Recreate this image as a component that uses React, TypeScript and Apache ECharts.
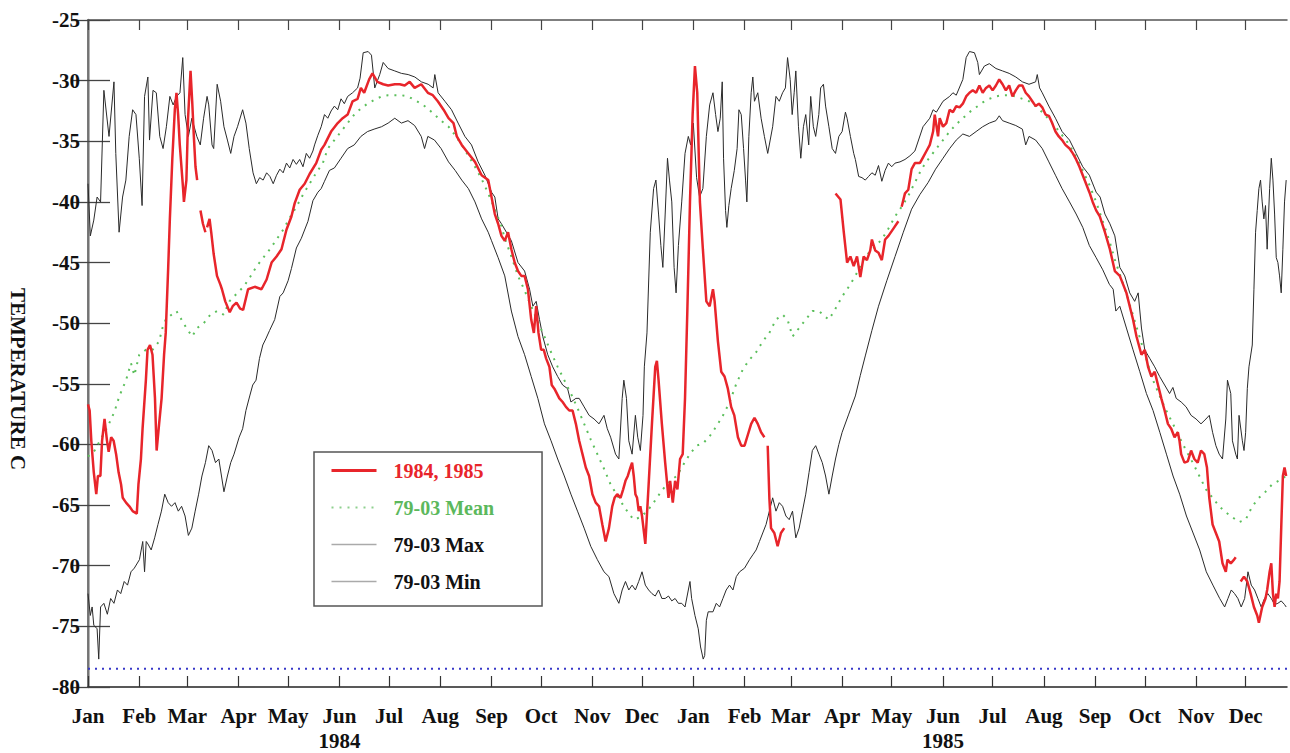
import React, { useEffect, useRef } from "react";
import * as echarts from "echarts";

// ---- axis definitions (days since 1 Jan 1984) ----
const X_MIN = 0;
const X_MAX = 725;
const Y_MIN = -80;
const Y_MAX = -25;
const Y_STEP = 5;
const MONTH_STARTS = [0, 31, 60, 91, 121, 152, 182, 213, 244, 274, 305, 335, 366, 397, 425, 456, 486, 517, 547, 578, 609, 639, 670, 700];
const MONTH_LABELS = ["Jan", "Feb", "Mar", "Apr", "May", "Jun\n1984", "Jul", "Aug", "Sep", "Oct", "Nov", "Dec",
  "Jan", "Feb", "Mar", "Apr", "May", "Jun\n1985", "Jul", "Aug", "Sep", "Oct", "Nov", "Dec"];
const FROST_POINT = -78.5;
const Y_TITLE = "TEMPERATURE C";

const LEGEND_NAMES = ["1984, 1985", "79-03 Mean", "79-03 Max", "79-03 Min"];

// ---- daily temperature 1984-1985 (gaps = null) ----
const obs8485: [number, number | null][] = [
  [0, -56.7], [1, -57.2], [2, -59.7], [3.5, -62.3], [5, -64.1], [6, -62.6], [7.5, -62.6], [8.5, -59.7], [10, -57.9], [11.5, -59.7],
  [12.5, -60.6], [14, -59.4], [15.5, -59.7], [17, -60.8], [18.5, -62.3], [20, -63.3], [21, -64.4], [23, -64.8], [25, -65.1], [27, -65.5],
  [29.5, -65.7], [30.5, -63.3], [32, -61.2], [33, -58.7], [35, -54.7], [36, -52.2], [37.5, -51.8], [39, -52.6], [40.5, -56.2], [41.5, -60.5],
  [43, -58.3], [44.5, -56.2], [46, -52.6], [47, -50.8], [48.5, -45.4], [49.5, -41.4], [51, -36.4], [52.5, -32.4], [53.5, -31], [54.5, -32.8],
  [55.5, -35.3], [57.5, -38.9], [58, -40], [59.5, -38.2], [60.5, -33.1], [62, -29.2], [63, -31.7], [64, -34.6], [65, -37.1], [66, -38.2],
  [67, null], [68, -40.7], [69.5, -41.8], [71, -42.5], [71.5, null], [72, -42.1], [73.5, -41.4], [74.5, -42.5], [76, -44.3], [78, -46.1],
  [80, -46.8], [81, -47.2], [83, -48.2], [85.7, -49.1], [87.5, -48.6], [89.8, -48.3], [92, -48.8], [93.8, -48.9], [96.8, -47.2], [100.8, -47],
  [104.9, -47.2], [108, -46.4], [111, -45], [114, -44.5], [117, -43.9], [120, -42.3], [123, -41.2], [125, -40.1], [128, -39], [131, -38.5],
  [134, -37.7], [138, -36.8], [141, -35.7], [143, -35.3], [147, -34.2], [151, -33.5], [154, -33.1], [157, -32.8], [160, -31.7], [163, -31.5],
  [165, -30.6], [167, -31], [170, -29.9], [172, -29.4], [175, -30.1], [178.5, -30.3], [181.5, -30.4], [185.5, -30.3], [188.5, -30.3], [191.5, -30.4],
  [194.5, -30.1], [197.5, -30.6], [201.5, -30.3], [205.5, -31], [208.5, -31.2], [211.5, -31.7], [215, -32.4], [218, -33.1], [221, -33.5], [223, -34.6],
  [226, -35.3], [230, -36], [234, -36.7], [238, -37.8], [242, -38.2], [244, -39.6], [246, -41], [248, -41.8], [250, -42.8], [252, -43.2],
  [254, -42.5], [256, -43.9], [258, -45], [260, -45.7], [262, -46.1], [264, -46.1], [266, -47.2], [268, -49.7], [269.6, -50.8], [271, -48.6],
  [272.4, -50.8], [274, -52.2], [275.6, -52.2], [277, -52.9], [279, -53.6], [280.4, -55.1], [282, -55.4], [285, -56.2], [287, -56.5], [289, -56.9],
  [291, -57.2], [293, -57.2], [295, -58.3], [297, -59.7], [299, -60.8], [301, -61.9], [303, -62.6], [305, -64.1], [307, -64.8], [309, -65.1],
  [311, -66.6], [313, -68], [315, -66.9], [317, -65.1], [318.4, -64.4], [320, -64.1], [322, -64.4], [323.6, -63.7], [325, -63], [326.4, -62.6],
  [328, -61.9], [329, -61.5], [330, -62.6], [331, -64.1], [332, -64.4], [333, -65.5], [334, -65.1], [335, -65.9], [337, -68.2], [339, -63.3],
  [341, -58.3], [343, -53.6], [344, -53.1], [345, -54.7], [347, -58.3], [349, -61.5], [351, -64.4], [352, -63], [353.6, -64.8], [355, -63],
  [356.4, -63.7], [358, -61.2], [359.6, -60.8], [361, -56.2], [362.4, -49], [364, -40], [365.6, -32.8], [367, -28.8], [368.4, -31], [370, -40],
  [371.8, -43.9], [373.9, -48.2], [375.9, -48.6], [377.9, -47.2], [378.9, -48.2], [380.9, -51.5], [382.9, -54], [384.9, -54.4], [386.9, -55.4], [388.9, -56.9],
  [390.8, -57.6], [393, -59.4], [395, -60.1], [397, -60.1], [399, -59.2], [401, -58.3], [403, -57.8], [405, -58.3], [407, -59], [409, -59.4],
  [410, null], [411, -60.1], [412, -64.4], [413, -66.9], [415, -67.3], [417, -68.4], [419, -67.3], [421, -66.9], [430, null],
  [452, -39.3], [455, -39.8], [457, -42.5], [459, -45], [461, -44.5], [463, -45.3], [465, -44.5], [467, -46.2], [469, -44.5], [471, -44.8],
  [473, -44], [474, -43.1], [476, -44], [478, -44.2], [480, -44.8], [482, -43.1], [484, -42.8], [487, -42.2], [490, -41.6], [491, null],
  [492, -40.4], [494, -39.3], [496, -39], [498, -37.3], [500, -36.8], [503, -36.8], [505, -36.3], [507, -35.8], [509, -35.3], [511, -34.2],
  [512, -32.8], [514, -34.6], [515, -33.1], [517, -33.8], [519, -33.5], [521, -32.4], [523, -32.6], [525, -32.1], [527, -32.2], [529, -31.9],
  [531, -31.3], [533, -31], [535, -30.8], [537, -31], [539, -30.4], [541, -31], [543, -30.6], [545, -30.4], [547, -30.8], [549, -30.4],
  [551, -29.9], [553, -30.3], [555, -30.8], [557, -30.4], [559, -31.3], [561, -30.8], [563, -30.4], [565, -30.4], [567, -31], [569, -31.3],
  [571, -31.7], [573, -32.1], [575, -31.9], [577, -32.2], [579, -32.8], [581, -32.9], [583, -33.5], [585, -34.2], [587, -34.6], [589, -34.9],
  [591, -35.3], [593.5, -35.6], [595.5, -36], [597.5, -36.5], [599.5, -37.1], [601.5, -37.8], [603.5, -38.5], [605.5, -39.2], [607.5, -40], [609.6, -40.7],
  [611.8, -41.2], [614.9, -42.5], [617.9, -43.9], [620.9, -45.7], [623.9, -46.1], [625.9, -46.8], [627.9, -47.5], [629.9, -48.6], [631.9, -49.7], [634, -51.1],
  [637, -52.6], [639, -52.2], [641, -53.6], [643, -54.4], [645, -54], [647, -55.1], [649, -56.2], [651, -57.2], [653, -58.3], [655, -58.7],
  [657, -59.4], [659, -59], [660, -59.7], [661, -60.8], [663, -61.5], [665, -61.4], [667, -60.5], [669, -61.2], [671, -61.5], [673, -60.5],
  [675, -60.8], [676.6, -61.9], [678, -64.4], [680, -66.6], [682, -67.3], [684, -68], [686, -69.8], [688, -70.5], [689, -69.5], [691, -69.8],
  [693, -69.5], [694, -69.3], [695.5, null], [697, -71.3], [699, -70.9], [701, -71.3], [703, -72.3], [705, -73.4], [707, -74.1], [708, -74.7],
  [710, -73.4], [712, -72.7], [713, -72], [714.5, -70.5], [715.5, -69.8], [716.5, -72.3], [717.5, -73.4], [718.5, -72.3], [719.5, -72.7], [720.5, -71.3],
  [721.5, -66.9], [722.5, -62.6], [723.5, -61.9], [724.5, -62.6],
];

// ---- 1979-2003 climatology: mean ----
const climMean: [number, number][] = [
  [0, -61], [4, -60.5], [8, -59.5], [12, -58.5], [16, -57.3], [19, -56], [23, -54.7], [26, -53.3], [28, -54.3], [31, -52.6],
  [35, -52.2], [39, -52.2], [43, -51.5], [45, -50.4], [47, -49.7], [50.5, -49.3], [53.5, -49], [56.5, -49.7], [59.5, -50.4], [63, -51.1],
  [66, -50.4], [70, -50], [74, -49.3], [78, -49], [82, -49.3], [85.5, -48.2], [89, -47.7], [94, -47], [98, -46.2], [102, -45.3],
  [106, -44.6], [110, -43.9], [114, -43.1], [118, -42.3], [122, -41.3], [126, -40.4], [130, -39.4], [134, -38.5], [138, -37.6], [142, -36.8],
  [145, -35.6], [149, -34.9], [153, -34.2], [157, -33.5], [161, -32.8], [165, -32.3], [169, -31.9], [173, -31.6], [177.5, -31.3], [181.5, -31.2],
  [185.5, -31.2], [189.5, -31.2], [193.5, -31.3], [197.5, -31.6], [201.5, -31.9], [205.5, -32.3], [209.5, -32.8], [213.5, -33.3], [218, -33.8], [222, -34.5],
  [226, -35.3], [230, -36.2], [234, -37.1], [238, -38.1], [242, -39.3], [246, -40.6], [250, -42], [252, -43], [256, -44.5], [260, -46.1],
  [264, -47.3], [268, -48.6], [272, -49.9], [276, -51.1], [280, -52.4], [284, -53.6], [288, -54.7], [292, -55.8], [296, -57], [300, -58.3],
  [304, -59.6], [308, -60.8], [312, -62], [316, -63.3], [320, -64.2], [324, -65.1], [327, -65.7], [330, -66.2], [334, -66], [338, -65.5],
  [341, -65], [344, -64.4], [347, -63.8], [350, -63.3], [353, -62.9], [356, -62.6], [359, -61.9], [362, -61.2], [365, -60.6], [368, -60.1],
  [372, -59.9], [376, -59.3], [380, -58.5], [384, -57.6], [388, -56.5], [392, -55], [396, -53.8], [400, -53], [404, -52.4], [408, -51.5],
  [412, -50.8], [416, -49.7], [420, -49.3], [423, -49.7], [426, -51.1], [430, -50.4], [434, -49.7], [438, -49], [442, -49], [446, -49.5],
  [448, -49.7], [452, -48.8], [456, -47.8], [460, -47], [464, -46.1], [470, -44.5], [475, -43.8], [480, -43.1], [484, -42.2], [488, -41.2],
  [492, -40.4], [496, -39.5], [500, -38.4], [504, -37.3], [508, -36.5], [513, -35.6], [517, -34.9], [521, -34.2], [525, -33.6], [529, -33.1],
  [533, -32.6], [537, -32.2], [541, -31.8], [545, -31.5], [549, -31.3], [553, -31.2], [557, -31.2], [561, -31.3], [565, -31.5], [569, -31.7],
  [573, -32.1], [577, -32.6], [581, -33.2], [585, -33.8], [589, -34.5], [593.5, -35.3], [597.5, -36.3], [601.5, -37.4], [605.5, -38.6], [609.6, -40],
  [613.6, -41.6], [617.6, -43.2], [621, -44.8], [624, -46], [628, -47.6], [632, -49.4], [636, -51.2], [640, -53], [644, -54.7], [648, -56],
  [652, -57.2], [656, -58.3], [660, -59.4], [664, -60.5], [668, -61.5], [672, -62.6], [676, -63.7], [680, -64.4], [684, -65.1], [688, -65.6],
  [692, -66], [696, -66.4], [700, -66.2], [704, -65.1], [708, -64.4], [712, -63.9], [716, -63.3], [720, -63], [724.5, -62.6],
];

// ---- 1979-2003 climatology: max ----
const climMax: [number, number][] = [
  [0, -38.5], [1.4, -42.8], [3.5, -41.5], [5.5, -39.6], [7.6, -40], [9.6, -30.8], [12.7, -34.6], [15.7, -30.1], [16.8, -36], [18.8, -42.5],
  [20.9, -39.6], [22.9, -38.2], [24.9, -34.6], [27, -32.4], [29, -32.8], [31, -36.4], [32.7, -40.3], [34.2, -31.3], [36.2, -29.7], [37.2, -34.9],
  [39.3, -30.8], [41.3, -31], [43.4, -34.6], [45.4, -35.6], [47.4, -33.8], [49.5, -31.3], [51.5, -32], [53.6, -31.3], [55.6, -31], [57.3, -28.1],
  [58.7, -32.8], [60.7, -34.6], [62.8, -33.1], [65.8, -34.6], [67.9, -35.3], [69.9, -33.1], [72, -31.3], [73, -32], [75, -35.3], [76, -35.6],
  [78.1, -30.3], [80.2, -31.7], [82.2, -33.8], [84.3, -34.9], [86.3, -36], [88.3, -34.6], [90.4, -33.8], [93.5, -32.4], [95.5, -33.5], [97.5, -35.6],
  [99.8, -37.6], [101.8, -38.5], [103.8, -38], [105.9, -38.2], [108, -37.6], [110, -37.9], [112, -38.5], [114, -37.8], [116, -37.3], [118, -37.6],
  [120, -36.8], [122, -37.2], [124, -36.5], [126, -36.9], [128, -36.5], [130, -37.1], [132, -36], [134, -36.4], [136, -35.8], [137, -35.3],
  [139, -34.5], [141, -33.8], [143, -32.8], [145, -33.1], [147, -32.5], [149, -32.1], [151, -32.4], [153, -31.5], [155, -31.9], [157, -31.3],
  [160, -31], [163, -30.6], [164.5, -29.8], [166.4, -27.7], [169.4, -27.6], [171.4, -27.9], [173.4, -30.6], [176.4, -29.5], [178.5, -28.5], [181.5, -29],
  [185.5, -29.2], [189.5, -29.4], [193.6, -29.5], [197.6, -29.7], [201.6, -30.1], [205.7, -30.3], [208.7, -30.6], [209.7, -29.5], [211.7, -31], [215.8, -31.7],
  [219.8, -32.4], [223.8, -33.5], [227.9, -34.6], [231.9, -35.3], [235.9, -36.7], [240, -37.8], [244, -39.2], [246, -39.6], [248, -41.4], [250, -41.8],
  [253, -42.5], [256, -43.2], [260, -45], [264, -45.7], [267, -47.2], [269, -48.6], [271, -48.2], [273, -49.7], [275, -51.1], [278, -52.6],
  [281, -53.6], [284, -54.4], [287, -55.1], [290, -55.4], [292, -56.5], [295, -56.2], [297, -56.2], [300, -56.9], [303, -57.6], [306, -57.9],
  [309, -58.3], [312, -57.6], [314, -58.7], [316, -59.4], [319, -60.8], [321, -61.2], [323, -56.2], [324, -54.7], [325.6, -56.2], [327, -59.7],
  [329, -60.8], [331, -57.6], [332.4, -59.4], [334, -60.5], [335.6, -57.6], [336.4, -53.6], [338, -50.8], [340, -42.5], [342, -38.9], [343.4, -38.2],
  [345, -41], [346.4, -43.6], [347.6, -45.4], [349, -41], [350.4, -36.4], [351.6, -38.2], [353, -40], [354.4, -45.4], [355.6, -47.5], [357, -43.6],
  [359, -40], [361, -36], [363, -34.6], [364.4, -35.3], [366, -33.5], [368, -38], [369.8, -39.6], [371.8, -38.9], [373.9, -34.6], [375.9, -32],
  [377.9, -31], [379.5, -32.8], [380.9, -34.2], [382.3, -33.1], [383.5, -30.1], [384.3, -36.4], [385.5, -40.7], [386.3, -42.1], [387.5, -40.3], [388.9, -38.9],
  [390.8, -37.4], [392.5, -35.6], [393.6, -32.4], [395, -32.8], [396.4, -35.6], [397.6, -38.2], [398.4, -40], [399.6, -34.6], [401, -31], [402, -29.7],
  [403, -31.7], [405, -31], [407, -33.1], [409, -34.6], [411, -36], [412.5, -34.9], [414, -33.8], [416, -31.3], [418, -31.7], [420, -31],
  [421.7, -30.6], [423, -28.1], [424.6, -29.9], [425.8, -32.8], [427, -31], [428, -29.2], [429.6, -33.8], [431, -36.4], [432.6, -33.8], [434, -32.8],
  [435.8, -35.3], [437, -31.3], [438.6, -33.8], [440, -34.6], [441.9, -32.8], [443, -30.6], [444.7, -30.3], [446, -32.1], [448, -33.8], [450, -35.6],
  [452, -36], [454, -34.6], [456, -34.2], [458, -32.6], [459, -33.1], [461, -34.6], [463, -36], [464, -36.5], [466, -37.9], [468, -38],
  [470, -38.2], [472, -37.9], [474, -37.6], [476, -37.8], [478, -37], [480, -38.3], [482, -37.4], [484, -36.8], [486, -37.1], [488, -36.8],
  [491, -36.7], [494, -36.5], [497, -36.2], [500, -35.8], [504.9, -33.8], [509, -33.1], [511, -32.4], [513, -32.6], [517, -31.7], [521, -31.3],
  [523, -31], [525, -31.2], [529, -29.9], [531, -28.1], [533, -27.6], [536, -27.7], [538, -28.5], [539, -29.5], [542, -28.8], [545, -28.6],
  [549, -29], [553, -29.2], [557, -29.4], [561, -29.7], [565, -30.1], [569, -30.3], [573, -30.1], [574, -29.5], [575.4, -30.6], [577, -31],
  [581, -32.1], [585, -33.1], [589, -34.2], [593.5, -34.9], [597.5, -36], [601.5, -37.1], [605.5, -37.8], [609.6, -39.2], [612, -39.6], [614.9, -41],
  [617.9, -41.8], [620.9, -42.8], [623.9, -45.4], [626.9, -46.1], [629.9, -47.5], [632.9, -48.2], [635, -47.5], [637, -50.4], [639, -52.2], [642, -52.9],
  [645, -53.6], [648, -54.4], [651, -55.1], [654, -55.8], [656, -55.3], [658, -56.2], [661, -56.5], [664, -56.9], [667, -57.6], [670, -57.9],
  [673, -58.3], [676, -57.9], [678, -57.6], [680, -59], [682, -60.1], [684, -60.8], [686, -61.2], [688, -57.9], [689, -54.7], [691, -55.8],
  [692, -59.7], [694, -60.8], [695, -61.2], [696, -57.6], [698, -59.7], [699, -60.5], [700, -59], [701, -55.4], [702, -53.6], [704, -51.8],
  [705, -47.2], [706, -42.5], [707, -40.7], [708, -38.9], [709, -38.2], [710, -40], [711, -41.4], [712, -40.3], [713, -43.9], [714.5, -38.9],
  [715.5, -36.4], [716.5, -38.2], [717.5, -41], [718.5, -44.6], [719.5, -45], [720.5, -46.1], [721.5, -47.5], [722.5, -43.9], [723.5, -40], [724.5, -38.2],
];

// ---- 1979-2003 climatology: min ----
const climMin: [number, number][] = [
  [0, -72.3], [1.4, -74.1], [2.5, -73.4], [3.5, -74.9], [5.5, -75.2], [6.5, -77.7], [7.6, -73.4], [9.6, -73.1], [11.7, -74], [13.7, -72.7],
  [15.7, -73.1], [17.8, -72], [19.8, -72.3], [21.9, -71.3], [23.9, -71.6], [26, -70.5], [28, -70.2], [31.1, -69.5], [33.1, -68], [34.2, -70.5],
  [35.2, -68], [36.2, -68.2], [38.2, -68.7], [40.3, -67.7], [42.3, -66.6], [44.4, -65.5], [46.4, -64.1], [48.5, -64.8], [50.5, -65.1], [52.6, -64.8],
  [54.6, -65.5], [56.6, -65.1], [58.7, -65.9], [60.7, -67.5], [62.8, -66.9], [64.8, -65.5], [66.9, -64.1], [68.9, -62.6], [71, -61.5], [73, -60.1],
  [75, -60.5], [77.1, -61.5], [79.1, -61.2], [82.2, -63.9], [84.3, -62.6], [86.3, -61.5], [88.3, -60.8], [91.4, -59.4], [93.5, -58.7], [95.5, -57.2],
  [97.8, -56], [99.6, -55.1], [101.6, -54.7], [103.7, -52.9], [105.7, -51.8], [107.5, -51.3], [109.8, -50.6], [112.9, -49.7], [116, -47.8], [118, -47.5],
  [121, -46.5], [123, -45.5], [126, -43.8], [129, -43], [133, -41.6], [136, -39.9], [139, -39.2], [141, -38.9], [143, -38.3], [146, -37.4],
  [149, -37.2], [153, -36.4], [157, -35.6], [161, -35.3], [165, -34.6], [169, -34.2], [173, -34], [177.5, -33.8], [181.5, -33.5], [185.5, -33.1],
  [189.5, -33.5], [193.5, -33.3], [197.5, -33.7], [201.5, -34.6], [203.5, -35.6], [205.5, -34.6], [209.5, -34.9], [213.5, -35.6], [218, -36.7], [222, -37.4],
  [226, -38.2], [230, -38.9], [234, -40], [238, -41.4], [242, -42.5], [244, -43.2], [248, -44.6], [252, -46.1], [256, -49], [260, -51.1],
  [264, -52.6], [268, -54.4], [272, -56.2], [276, -58.3], [280, -59.7], [284, -61.2], [288, -62.6], [292, -64.1], [296, -65.5], [300, -66.9],
  [304, -68.4], [308, -69.5], [312, -70.5], [315, -70.9], [318, -72.3], [321, -73.1], [323, -72], [325, -71.3], [327, -72], [329, -71.6],
  [331, -72], [333, -71.3], [335, -70.5], [337, -71.6], [339, -72], [341, -72.3], [343, -72.5], [345, -72], [347, -72.7], [349, -72.7],
  [351, -72.5], [353, -72.9], [355, -72.7], [357, -73.1], [359, -73.1], [361, -73.4], [364, -71.3], [365, -72.7], [367, -74.1], [369, -75.2],
  [370.4, -76.7], [372, -77.7], [372.9, -77.4], [373.9, -74.5], [375, -73.8], [377.9, -73.8], [379.9, -73.1], [381.9, -73.4], [383.9, -72.7], [385.9, -72],
  [387.9, -71.6], [390, -72], [392, -70.9], [394, -70.5], [397, -70.2], [400, -69.5], [402, -69.1], [404, -68.7], [406, -68], [408, -67.3],
  [410, -66.6], [412, -65.5], [414, -64.4], [416, -65.5], [418, -64.8], [420, -65.1], [422, -65.9], [424, -66.2], [426, -65.5], [428, -67.7],
  [430, -66.9], [432, -65.5], [434, -64.1], [436, -62.3], [438, -60.5], [440, -60.1], [442, -60.8], [444, -61.5], [446, -62.6], [448, -64.1],
  [450, -62.6], [452, -61.2], [454, -60], [456, -59], [460, -57.5], [464, -56], [467, -54.3], [470, -52.7], [474, -50.6], [478, -48.6],
  [483, -46.5], [488, -44.5], [493, -42.5], [498, -40.6], [503, -39.4], [508, -38.4], [512.5, -37.3], [517, -36.4], [521, -35.6], [525, -34.9],
  [529, -34.4], [533, -34.6], [537, -34.2], [541, -33.8], [545, -33.5], [549, -33.3], [551, -32.9], [553, -33.3], [557, -33.5], [561, -33.7],
  [565, -34], [567, -35.3], [569, -34.6], [573, -34.9], [577, -35.6], [581, -36.7], [585, -37.8], [589, -38.9], [593.5, -40], [597.5, -41],
  [601.5, -42.1], [605.5, -43.6], [609.6, -44.6], [613.6, -45.6], [617.6, -46.8], [619.9, -47.2], [621.5, -49], [623.9, -48.6], [627.9, -50.4], [631.9, -52.2],
  [636, -54], [640, -55.8], [644, -57.2], [648.1, -59], [652.1, -60.8], [656.1, -62.6], [660.1, -64.1], [664.2, -65.9], [668.2, -67.3], [672.2, -68.7],
  [676.2, -70.5], [680.2, -71.6], [684.3, -72.7], [687.3, -73.4], [689.3, -72.7], [691.3, -72], [693.3, -72.3], [695.3, -72.7], [697.3, -73.4], [699.4, -72.7],
  [701.4, -70.5], [703.4, -71.6], [705.4, -72], [707.4, -72.7], [709.4, -73.4], [711.4, -72.7], [713.4, -72.3], [715.5, -72.7], [717.5, -73.2], [719.5, -73.1],
  [721.5, -72.9], [723.5, -73.2], [724.5, -73.4],
];

const FONT = "'Liberation Serif', 'Times New Roman', serif";

export default function App() {
  const ref = useRef<HTMLDivElement>(null);

  useEffect(() => {
    if (!ref.current) return;
    const chart = echarts.init(ref.current, null, { renderer: "svg" });

    const labelFor = (v: number) => {
      const i = MONTH_STARTS.indexOf(Math.round(v));
      return i >= 0 ? MONTH_LABELS[i] : "";
    };

    const hiddenSymbol = { opacity: 0, borderWidth: 0 };

    const option = {
      animation: false,
      backgroundColor: "#ffffff",
      grid: { left: 88, right: 3, top: 20, bottom: 64, containLabel: false },
      legend: {
        orient: "vertical",
        left: 314,
        top: 452,
        padding: [8, 48, 14, 16],
        itemGap: 16,
        itemWidth: 45,
        itemHeight: 14,
        backgroundColor: "#ffffff",
        borderColor: "#555555",
        borderWidth: 1.5,
        selectedMode: false,
        itemStyle: hiddenSymbol,
        textStyle: { fontFamily: FONT, fontWeight: "bold", fontSize: 20, lineHeight: 21, padding: [0, 0, 0, 12] },
        data: [
          { name: LEGEND_NAMES[0], itemStyle: hiddenSymbol, textStyle: { color: "#e8252b" }, lineStyle: { color: "#e8252b", width: 3 } },
          { name: LEGEND_NAMES[1], itemStyle: hiddenSymbol, textStyle: { color: "#5cb85c" }, lineStyle: { color: "#8ed08e", width: 2, type: [2, 6] } },
          { name: LEGEND_NAMES[2], itemStyle: hiddenSymbol, textStyle: { color: "#111111" }, lineStyle: { color: "#aaaaaa", width: 1.5 } },
          { name: LEGEND_NAMES[3], itemStyle: hiddenSymbol, textStyle: { color: "#111111" }, lineStyle: { color: "#aaaaaa", width: 1.5 } },
        ],
      },
      graphic: [
        {
          type: "text",
          x: 18,
          y: 379,
          rotation: -Math.PI / 2,
          style: {
            text: Y_TITLE,
            fill: "#111111",
            font: `bold 21px ${FONT}`,
            textAlign: "center",
            textVerticalAlign: "middle",
            align: "center",
            verticalAlign: "middle",
          },
        },
      ],
      xAxis: [
        {
          type: "value",
          position: "bottom",
          min: X_MIN,
          max: X_MAX,
          axisLine: { show: true, lineStyle: { color: "#222222", width: 1.5 } },
          axisTick: { show: true, inside: true, length: 11, customValues: MONTH_STARTS, lineStyle: { color: "#333333", width: 1.2 } },
          axisLabel: {
            show: true,
            customValues: MONTH_STARTS,
            formatter: labelFor,
            margin: 16,
            color: "#111111",
            fontFamily: FONT,
            fontWeight: "bold",
            fontSize: 21,
            lineHeight: 25,
          },
          splitLine: { show: false },
        },
        {
          type: "value",
          position: "top",
          min: X_MIN,
          max: X_MAX,
          axisLine: { show: true, lineStyle: { color: "#555555", width: 1.5 } },
          axisTick: { show: true, inside: true, length: 10, customValues: MONTH_STARTS, lineStyle: { color: "#444444", width: 1.2 } },
          axisLabel: { show: false },
          splitLine: { show: false },
        },
      ],
      yAxis: [
        {
          type: "value",
          position: "left",
          min: Y_MIN,
          max: Y_MAX,
          interval: Y_STEP,
          axisLine: { show: true, lineStyle: { color: "#9a9a9a", width: 2.5 } },
          axisTick: { show: true, inside: true, length: 22, lineStyle: { color: "#444444", width: 1.3 } },
          axisLabel: { show: true, margin: 8, color: "#111111", fontFamily: FONT, fontWeight: "bold", fontSize: 21 },
          splitLine: { show: false },
        },
        {
          type: "value",
          position: "right",
          min: Y_MIN,
          max: Y_MAX,
          interval: Y_STEP,
          axisLine: { show: true, lineStyle: { color: "#666666", width: 1.5 } },
          axisTick: { show: true, inside: true, length: 17, lineStyle: { color: "#444444", width: 1.3 } },
          axisLabel: { show: false },
          splitLine: { show: false },
        },
      ],
      series: [
        {
          name: LEGEND_NAMES[2],
          type: "line",
          xAxisIndex: 0,
          yAxisIndex: 0,
          data: climMax,
          symbol: "none",
          itemStyle: { color: "#2a2a2a" },
          lineStyle: { color: "#2a2a2a", width: 1 },
          z: 2,
        },
        {
          name: LEGEND_NAMES[3],
          type: "line",
          xAxisIndex: 0,
          yAxisIndex: 0,
          data: climMin,
          symbol: "none",
          itemStyle: { color: "#2a2a2a" },
          lineStyle: { color: "#2a2a2a", width: 1 },
          z: 2,
        },
        {
          name: LEGEND_NAMES[1],
          type: "line",
          xAxisIndex: 0,
          yAxisIndex: 0,
          data: climMean,
          symbol: "none",
          itemStyle: { color: "#5cbf5c" },
          lineStyle: { color: "#5cbf5c", width: 2, type: [2, 6] },
          z: 3,
        },
        {
          name: LEGEND_NAMES[0],
          type: "line",
          xAxisIndex: 0,
          yAxisIndex: 0,
          data: obs8485,
          symbol: "none",
          connectNulls: false,
          itemStyle: { color: "#e8252b" },
          lineStyle: { color: "#e8252b", width: 2.5 },
          z: 4,
        },
        {
          name: "frost",
          type: "line",
          xAxisIndex: 0,
          yAxisIndex: 0,
          data: [[X_MIN, FROST_POINT], [X_MAX, FROST_POINT]],
          symbol: "none",
          itemStyle: { color: "#3838c8" },
          lineStyle: { color: "#3838c8", width: 2, type: [2, 5] },
          z: 5,
        },
      ],
    };

    chart.setOption(option as any);
    return () => chart.dispose();
  }, []);

  return (
    <div
      ref={ref}
      style={{ position: "fixed", left: 0, top: 0, width: 1290, height: 753, background: "#ffffff" }}
    />
  );
}
